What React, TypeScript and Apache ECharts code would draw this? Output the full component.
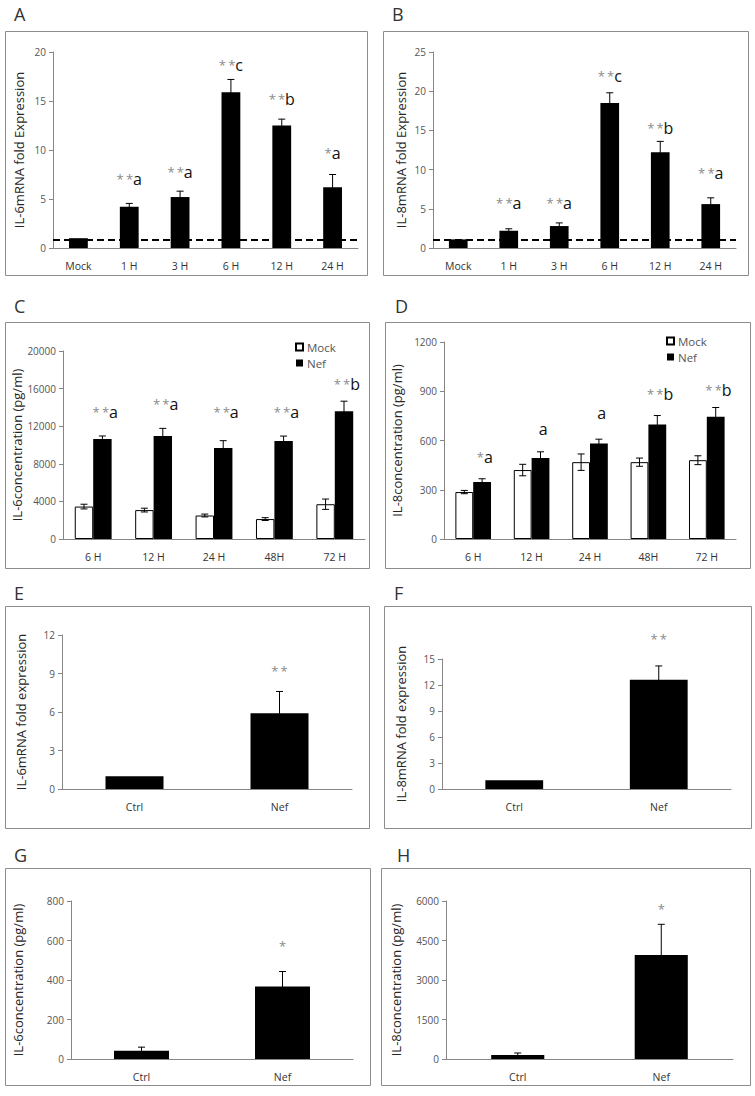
import React, { useEffect, useRef } from "react";
import * as echarts from "echarts";

// ---------- DATA ----------
const timeCatsAB = ["Mock", "1 H", "3 H", "6 H", "12 H", "24 H"];
// Panel A: IL-6 mRNA fold expression
const il6mRNA = [1.0, 4.2, 5.2, 15.9, 12.5, 6.2];
const il6mRNAErr = [0, 0.35, 0.6, 1.3, 0.65, 1.3];
const il6mRNAMarks = ["", "**a", "**a", "**c", "**b", "*a"];
const il6mRNAMarkY = [0, 7.0, 7.8, 18.7, 15.2, 9.7];
const il6mRNABaseline = 0.85;
// Panel B: IL-8 mRNA fold expression
const il8mRNA = [1.1, 2.2, 2.8, 18.5, 12.2, 5.6];
const il8mRNAErr = [0, 0.25, 0.4, 1.3, 1.4, 0.8];
const il8mRNAMarks = ["", "**a", "**a", "**c", "**b", "**a"];
const il8mRNAMarkY = [0, 5.8, 5.8, 21.9, 15.3, 9.6];
const il8mRNABaseline = 1.05;

const timeCatsCD = ["6 H", "12 H", "24 H", "48H", "72 H"];
// Panel C: IL-6 concentration
const il6MockConc = [3450, 3075, 2500, 2120, 3700];
const il6MockErr = [250, 200, 150, 150, 550];
const il6NefConc = [10640, 10950, 9680, 10420, 13600];
const il6NefErr = [320, 820, 780, 530, 1060];
const il6ConcMarks = ["**a", "**a", "**a", "**a", "**b"];
const il6ConcMarkY = [13530, 14340, 13530, 13530, 16540];
// Panel D: IL-8 concentration
const il8MockConc = [286, 420, 468, 468, 480];
const il8MockErr = [10, 35, 50, 25, 27];
const il8NefConc = [347, 493, 582, 698, 744];
const il8NefErr = [20, 38, 26, 54, 57];
const il8ConcMarks = ["*a", "a", "a", "**b", "**b"];
const il8ConcMarkY = [500, 673, 768, 886, 906];

const ctrlNefCats = ["Ctrl", "Nef"];
// Panel E
const il6FoldE = [1.0, 5.9];
const il6FoldEErr = [0, 1.7];
const il6FoldEMarks = ["", "**"];
const il6FoldEMarkY = [0, 9.2];
// Panel F
const il8FoldF = [1.0, 12.6];
const il8FoldFErr = [0, 1.6];
const il8FoldFMarks = ["", "**"];
const il8FoldFMarkY = [0, 17.3];
// Panel G
const il6ConcG = [42, 367];
const il6ConcGErr = [18, 76];
const il6ConcGMarks = ["", "*"];
const il6ConcGMarkY = [0, 572];
// Panel H
const il8ConcH = [152, 3945];
const il8ConcHErr = [76, 1170];
const il8ConcHMarks = ["", "*"];
const il8ConcHMarkY = [0, 5690];

// ---------- STYLE / LAYOUT ----------
const FONT = "'Open Sans', 'Liberation Sans', sans-serif";
const AXIS_GRAY = "#868686";
const TICK_GRAY = "#555";

const grids = [
  { left: 53, top: 52, width: 305, height: 196 },
  { left: 433, top: 52, width: 303, height: 196 },
  { left: 63, top: 351, width: 302, height: 188 },
  { left: 444, top: 342, width: 292, height: 197 },
  { left: 62, top: 635, width: 290, height: 154 },
  { left: 442, top: 659, width: 289, height: 130 },
  { left: 71, top: 901, width: 282, height: 158 },
  { left: 446, top: 901, width: 287, height: 158 },
];

const boxes = [
  [5, 31, 367, 275],
  [383, 31, 748, 275],
  [5, 322, 369, 568],
  [385, 322, 750, 568],
  [5, 606, 369, 828],
  [384, 606, 751, 828],
  [5, 868, 370, 1085],
  [381, 868, 750, 1085],
];

const letters = [
  ["A", 14, 14],
  ["B", 392, 14],
  ["C", 14, 306],
  ["D", 395, 306],
  ["E", 14, 593],
  ["F", 394, 593],
  ["G", 14, 855],
  ["H", 397, 855],
];

const yAxesCfg = [
  { name: "IL-6mRNA fold Expression", max: 20, interval: 5, gap: 28 },
  { name: "IL-8mRNA fold Expression", max: 25, interval: 5, gap: 26 },
  { name: "IL-6concentration (pg/ml)", max: 20000, interval: 4000, gap: 39 },
  { name: "IL-8concentration (pg/ml)", max: 1200, interval: 300, gap: 41 },
  { name: "IL-6mRNA fold expression", max: 12, interval: 3, gap: 35 },
  { name: "IL-8mRNA fold expression", max: 15, interval: 3, gap: 35 },
  { name: "IL-6concentration (pg/ml)", max: 800, interval: 200, gap: 47 },
  { name: "IL-8concentration (pg/ml)", max: 6000, interval: 1500, gap: 44 },
];

const xCats = [timeCatsAB, timeCatsAB, timeCatsCD, timeCatsCD, ctrlNefCats, ctrlNefCats, ctrlNefCats, ctrlNefCats];

function errRender(offsetFrac: number) {
  return (params: any, api: any) => {
    const x = api.value(0);
    const v = api.value(1);
    const e = api.value(2);
    if (!e) return { type: "group", children: [] };
    const band = api.size([1, 0])[0];
    const top = api.coord([x, v + e]);
    const bot = api.coord([x, v - e]);
    const cx = top[0] + band * offsetFrac;
    const hw = 3.5;
    const st = { stroke: "#000", lineWidth: 1 };
    return {
      type: "group",
      children: [
        { type: "line", shape: { x1: cx, y1: top[1], x2: cx, y2: bot[1] }, style: st },
        { type: "line", shape: { x1: cx - hw, y1: top[1], x2: cx + hw, y2: top[1] }, style: st },
        { type: "line", shape: { x1: cx - hw, y1: bot[1], x2: cx + hw, y2: bot[1] }, style: st },
      ],
    };
  };
}

function annoRender(marks: string[], offsetFrac: number) {
  return (params: any, api: any) => {
    const i = api.value(0);
    const txt = marks[i] || "";
    const m = txt.match(/^\*+/);
    const stars = m ? m[0] : "";
    const letter = txt.slice(stars.length);
    const p = api.coord([i, api.value(1)]);
    const band = api.size([1, 0])[0];
    let text = "";
    if (stars) text += `{s|${stars.split("").join("\u2009")}}`;
    if (letter) text += `{l|${letter}}`;
    return {
      type: "text",
      x: p[0] + band * offsetFrac,
      y: p[1],
      style: {
        text,
        align: "center",
        verticalAlign: "middle",
        rich: {
          s: { fontSize: 13, fill: "#8a8a8a", fontFamily: FONT },
          l: { fontSize: 16, fill: "#111", fontFamily: FONT },
        },
      },
    };
  };
}

function errData(values: number[], errs: number[]) {
  return values.map((v, i) => [i, v, errs[i]]);
}
function markData(marks: string[], ys: number[]) {
  return marks.map((m, i) => (m ? [i, ys[i]] : null)).filter((d) => d) as number[][];
}

function singlePanel(
  idx: number,
  name: string,
  values: number[],
  errs: number[],
  marks: string[],
  markY: number[],
  gap: string,
  baseline?: number
) {
  const bar: any = {
    type: "bar",
    name,
    xAxisIndex: idx,
    yAxisIndex: idx,
    data: values,
    barCategoryGap: gap,
    itemStyle: { color: "#000" },
    z: 2,
  };
  if (baseline !== undefined) {
    bar.markLine = {
      silent: true,
      symbol: "none",
      label: { show: false },
      lineStyle: { type: [7, 4], color: "#000", width: 2 },
      data: [{ yAxis: baseline }],
    };
  }
  return [
    bar,
    {
      type: "custom",
      xAxisIndex: idx,
      yAxisIndex: idx,
      renderItem: errRender(0),
      data: errData(values, errs),
      z: 3,
    },
    {
      type: "custom",
      xAxisIndex: idx,
      yAxisIndex: idx,
      renderItem: annoRender(marks, 0),
      data: markData(marks, markY),
      z: 4,
    },
  ];
}

function groupedPanel(
  idx: number,
  mock: number[],
  mockErr: number[],
  nef: number[],
  nefErr: number[],
  marks: string[],
  markY: number[]
) {
  const gapFrac = 0.39;
  const half = (1 - gapFrac) / 4;
  return [
    {
      type: "bar",
      name: "Mock",
      xAxisIndex: idx,
      yAxisIndex: idx,
      data: mock,
      barGap: "0%",
      barCategoryGap: "39%",
      itemStyle: { color: "#fff", borderColor: "#000", borderWidth: 1 },
      z: 2,
    },
    {
      type: "bar",
      name: "Nef",
      xAxisIndex: idx,
      yAxisIndex: idx,
      data: nef,
      barGap: "0%",
      barCategoryGap: "39%",
      itemStyle: { color: "#000" },
      z: 2,
    },
    {
      type: "custom",
      xAxisIndex: idx,
      yAxisIndex: idx,
      renderItem: errRender(-half),
      data: errData(mock, mockErr),
      z: 3,
    },
    {
      type: "custom",
      xAxisIndex: idx,
      yAxisIndex: idx,
      renderItem: errRender(half),
      data: errData(nef, nefErr),
      z: 3,
    },
    {
      type: "custom",
      xAxisIndex: idx,
      yAxisIndex: idx,
      renderItem: annoRender(marks, 0.2),
      data: markData(marks, markY),
      z: 4,
    },
  ];
}

function buildOption(): any {
  const xAxis = xCats.map((cats, i) => ({
    type: "category",
    gridIndex: i,
    data: cats,
    axisLine: { lineStyle: { color: AXIS_GRAY, width: 1 } },
    axisTick: { show: false },
    axisLabel: { color: "#333", fontSize: 10.5, fontFamily: FONT, margin: 12 },
  }));
  const yAxis = yAxesCfg.map((c, i) => ({
    type: "value",
    gridIndex: i,
    min: 0,
    max: c.max,
    interval: c.interval,
    name: c.name,
    nameLocation: "middle",
    nameGap: c.gap,
    nameTextStyle: { color: "#262626", fontSize: 13, fontFamily: FONT },
    axisLine: { show: true, lineStyle: { color: AXIS_GRAY, width: 1 } },
    axisTick: { show: true, length: 4, lineStyle: { color: AXIS_GRAY } },
    splitLine: { show: false },
    axisLabel: {
      color: TICK_GRAY,
      fontSize: 10,
      fontFamily: FONT,
      margin: 7,
      formatter: (v: number) => String(v),
    },
  }));

  const series = [
    ...singlePanel(0, "IL-6 mRNA", il6mRNA, il6mRNAErr, il6mRNAMarks, il6mRNAMarkY, "63%", il6mRNABaseline),
    ...singlePanel(1, "IL-8 mRNA", il8mRNA, il8mRNAErr, il8mRNAMarks, il8mRNAMarkY, "63%", il8mRNABaseline),
    ...groupedPanel(2, il6MockConc, il6MockErr, il6NefConc, il6NefErr, il6ConcMarks, il6ConcMarkY),
    ...groupedPanel(3, il8MockConc, il8MockErr, il8NefConc, il8NefErr, il8ConcMarks, il8ConcMarkY),
    ...singlePanel(4, "IL-6 fold E", il6FoldE, il6FoldEErr, il6FoldEMarks, il6FoldEMarkY, "60%"),
    ...singlePanel(5, "IL-8 fold F", il8FoldF, il8FoldFErr, il8FoldFMarks, il8FoldFMarkY, "60%"),
    ...singlePanel(6, "IL-6 conc G", il6ConcG, il6ConcGErr, il6ConcGMarks, il6ConcGMarkY, "61%"),
    ...singlePanel(7, "IL-8 conc H", il8ConcH, il8ConcHErr, il8ConcHMarks, il8ConcHMarkY, "63%"),
  ];

  const legendBase = {
    orient: "vertical",
    icon: "rect",
    itemWidth: 7,
    itemHeight: 7,
    itemGap: 4,
    selectedMode: false,
    textStyle: { color: TICK_GRAY, fontSize: 11.5, fontFamily: FONT, padding: [0, 0, 0, -1] },
    data: ["Mock", "Nef"],
  };

  const graphic: any[] = [];
  boxes.forEach(([x1, y1, x2, y2]) => {
    graphic.push({
      type: "rect",
      silent: true,
      z: -1,
      shape: { x: x1 + 0.5, y: y1 + 0.5, width: x2 - x1, height: y2 - y1 },
      style: { fill: "none", stroke: "#8c8c8c", lineWidth: 1 },
    });
  });
  letters.forEach(([t, x, y]) => {
    graphic.push({
      type: "text",
      silent: true,
      x: x as number,
      y: y as number,
      style: {
        text: t as string,
        fontSize: 18,
        fontFamily: FONT,
        fill: "#333",
        align: "left",
        verticalAlign: "middle",
      },
    });
  });

  return {
    animation: false,
    backgroundColor: "#fff",
    grid: grids,
    xAxis,
    yAxis,
    legend: [
      { ...legendBase, left: 290, top: 336 },
      { ...legendBase, left: 661, top: 330 },
    ],
    graphic,
    series,
  };
}

export default function App() {
  const ref = useRef<HTMLDivElement>(null);
  useEffect(() => {
    if (!ref.current) return;
    const chart = echarts.init(ref.current, null, { renderer: "svg" });
    chart.setOption(buildOption());
    return () => chart.dispose();
  }, []);
  return (
    <div
      ref={ref}
      style={{ position: "absolute", left: 0, top: 0, width: 755, height: 1096, background: "#fff" }}
    />
  );
}
